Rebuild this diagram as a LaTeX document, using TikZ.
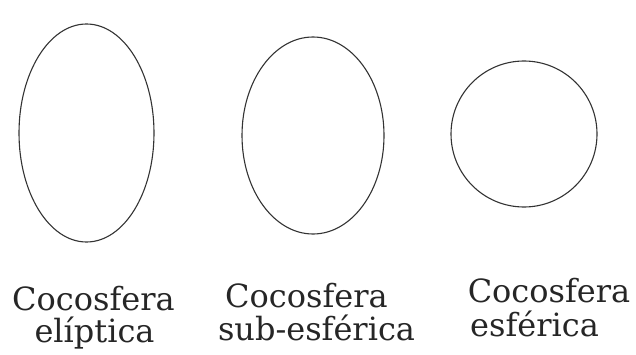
\documentclass[tikz,border=0pt]{standalone}
\usepackage{fontspec}
\setmainfont{DejaVu Serif}
\begin{document}
\begin{tikzpicture}[x=1pt,y=1pt,
  cell/.style={draw=black!80,line width=1.1pt},
  lbl/.style={font=\fontsize{32}{38}\selectfont,align=center,inner sep=0pt,text=black!85,anchor=base}]
\useasboundingbox (0,0) rectangle (636,354);
\draw[cell] (86.5,221) ellipse [x radius=67.5,y radius=109];
\draw[cell] (313,218.5) ellipse [x radius=71,y radius=98.5];
\draw[cell] (524,220) ellipse [x radius=73,y radius=73];
\node[lbl] (a1) at (93.5,44) {Cocosfera};
\node[lbl] (a2) at (94.5,12) {elíptica};
\node[lbl] (b1) at (306.5,47) {Cocosfera};
\node[lbl] (b2) at (316.5,14) {sub-esférica};
\node[lbl] (c1) at (549,52) {Cocosfera};
\node[lbl] (c2) at (534.5,18) {esférica};
\end{tikzpicture}
\end{document}
